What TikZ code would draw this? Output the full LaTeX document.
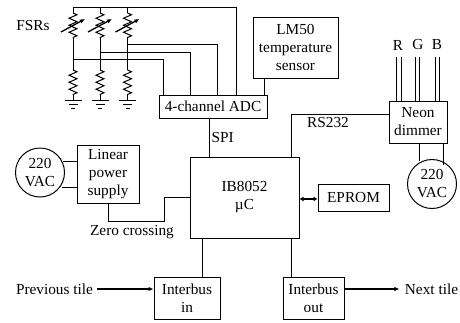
\documentclass[tikz,border=0pt]{standalone}
\usepackage{fontspec}
\setmainfont{Liberation Serif}
\usepackage{tikz}
\usetikzlibrary{decorations.pathmorphing,arrows.meta}
\tikzset{
	blockbox/.style={draw,align=center,inner sep=0pt,font=\fontsize{15.3}{18}\selectfont},
	lbl/.style={align=center,inner sep=0pt,font=\fontsize{15.3}{18}\selectfont},
	mains/.style={draw,circle,minimum size=49pt,inner sep=0pt,align=center,font=\fontsize{15.3}{18}\selectfont},
	wire/.style={line width=1pt},
	sig/.style={line width=1.3pt,-{Latex[length=5pt,width=4.5pt]}},
	res/.style={line width=1pt,decorate,decoration={zigzag,segment length=7pt,amplitude=4pt}}
}
\begin{document}
\begin{tikzpicture}[x=1pt,y=-1pt,line width=1pt]
			\useasboundingbox (0,0) rectangle (460,322);
			\node (adc) [blockbox,minimum width=108pt,minimum height=23pt] at (213,106.5) {4-channel ADC};
			\node (lm) [blockbox,minimum width=85pt,minimum height=61pt] at (295.5,47.5) {LM50\\temperature\\sensor};
			\node (neon) [blockbox,minimum width=58pt,minimum height=42pt] at (418,122) {Neon\\dimmer};
			\node (ic) [blockbox,minimum width=109pt,minimum height=81pt] at (244.5,197.5) {IB8052\\µC};
			\node (psu) [blockbox,minimum width=62pt,minimum height=58pt] at (108,174) {Linear\\power\\supply};
			\node (acl) [mains] at (40,172.5) {220\\VAC};
			\node (acr) [mains] at (432,184) {220\\VAC};
			\node (eprom) [blockbox,minimum width=71pt,minimum height=27pt] at (353.5,197.5) {EPROM};
			\node (ibin) [blockbox,minimum width=66pt,minimum height=42pt] at (187,298) {Interbus\\in};
			\node (ibout) [blockbox,minimum width=61pt,minimum height=42pt] at (313.5,298) {Interbus\\out};
			\node (fsrs) [lbl] at (33,26) {FSRs};
			\node (spi) [lbl,anchor=west] at (211,138) {SPI};
			\node (rs) [lbl] at (328,123) {RS232};
			\node (zero) [lbl] at (132,232) {Zero crossing};
			\node (prev) [lbl,inner xsep=3.5pt] at (54.5,289) {Previous tile};
			\node (next) [lbl,inner xsep=5pt] at (431.5,289) {Next tile};
			\node (r) [lbl] at (398,45) {R};
			\node (g) [lbl] at (418,45) {G};
			\node (b) [lbl] at (437,45) {B};
			\coordinate (rail) at (73,7);
			\coordinate (railend) at (236,7);
			\foreach \i/\x/\tap/\pin in {1/73/59.5/163,2/100/52/190,3/127.5/44/217}{
				\coordinate (fa\i) at (\x,13);
				\coordinate (fb\i) at (\x,38);
				\coordinate (ra\i) at (\x,70);
				\coordinate (rb\i) at (\x,95);
				\coordinate (gnd\i) at (\x,100);
				\coordinate (tap\i) at (\x,\tap);
				\coordinate (pin\i) at (\pin,95);
				\draw [wire] (\x,7) -- (fa\i);
				\draw [res] (fa\i) -- (fb\i);
				\draw [wire] (fb\i) -- (ra\i);
				\draw [res] (ra\i) -- (rb\i);
				\draw [wire] (rb\i) -- (gnd\i);
				\draw [wire] ([xshift=-8.5pt]gnd\i) -- ([xshift=8.5pt]gnd\i);
				\draw [wire] ([xshift=-4.5pt,yshift=-4pt]gnd\i) -- ([xshift=4.5pt,yshift=-4pt]gnd\i);
				\draw [wire] ([xshift=-2pt,yshift=-8pt]gnd\i) -- ([xshift=2pt,yshift=-8pt]gnd\i);
				\draw [sig] (\x-12,32) -- (\x+12,19);
				\draw [wire] (tap\i) -| (pin\i);
			}
			\draw [wire] (rail) -- (railend) -- (railend |- adc.north);
			\coordinate (lmx) at (264,78);
			\draw [wire] (lmx) -- (lmx |- adc.north);
			\coordinate (spix) at (209,118);
			\draw [wire] (spix) -- (spix |- ic.north);
			\coordinate (rsx) at (291,157);
			\draw [wire] (rsx) |- (neon.west |- 0,114);
			\foreach \n/\xa/\xb in {r/396/401,g/415/419,b/435/439}{
				\draw [wire] (\xa,57) -- (\xa,101);
				\draw [wire] (\xb,57) -- (\xb,101);
			}
			\coordinate (acra) at (419,143);
			\coordinate (acrb) at (443,143);
			\draw [wire] (acra) -- (acra |- 0,161);
			\draw [wire] (acrb) -- (acrb |- 0,165);
			\draw [wire] (acl.east |- 0,161) ++(-2,0) -- (psu.west |- 0,161);
			\draw [wire] (acl.east |- 0,187) ++(-3,0) -- (psu.west |- 0,187);
			\coordinate (psux) at (108,203);
			\draw [wire] (psux) -- (108,221) -- (164,221) -- (164,197) -- (ic.west |- 0,197);
			\coordinate (epromport) at (318,199);
			\draw [line width=1.3pt,{Latex[length=4pt,width=5pt]}-{Latex[length=4pt,width=5pt]}] (ic.east |- epromport) -- (eprom.west |- epromport);
			\coordinate (inx) at (202,238);
			\draw [wire] (inx) -- (inx |- ibin.north);
			\coordinate (outx) at (291,238);
			\draw [wire] (outx) -- (outx |- ibout.north);
			\draw [sig] (prev.east) -- (prev -| ibin.west);
			\draw [sig] (next -| ibout.east) -- (next.west);
		\end{tikzpicture}
\end{document}
